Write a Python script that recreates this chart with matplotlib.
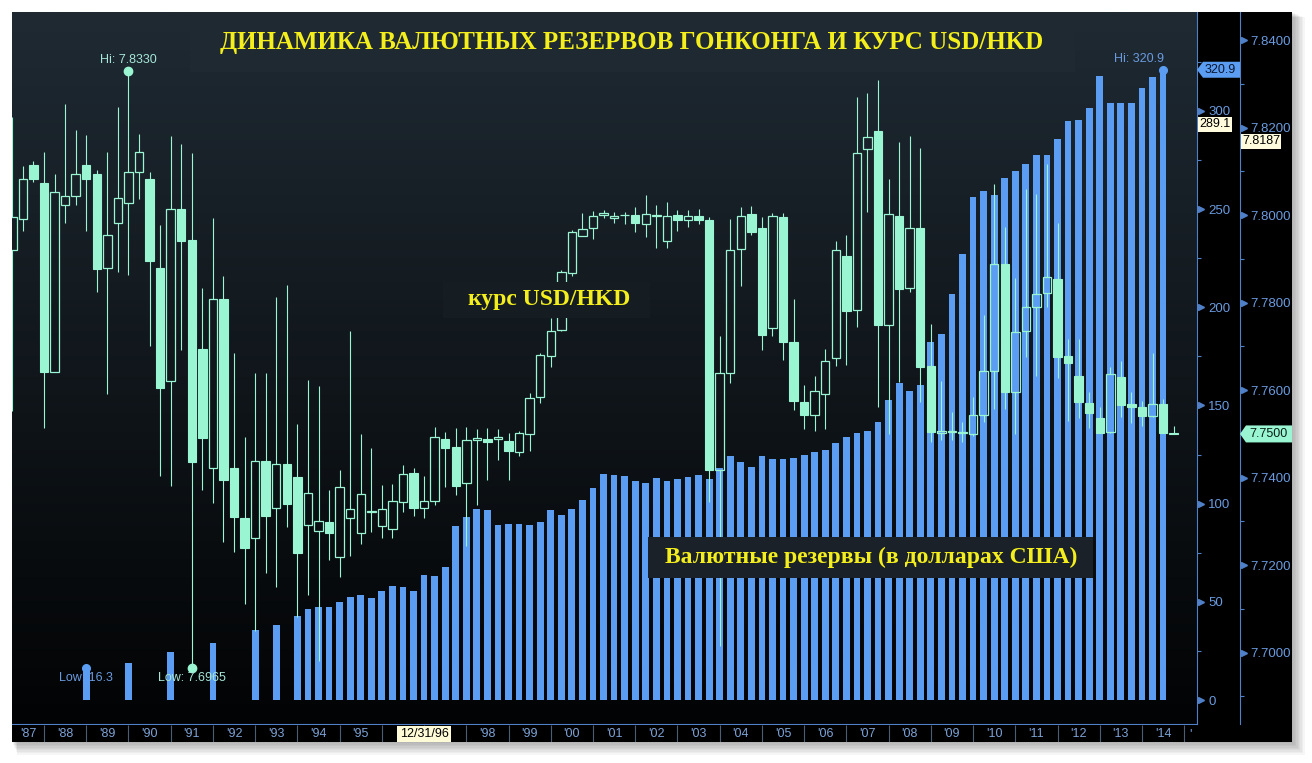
import matplotlib
matplotlib.use('Agg')
import matplotlib.pyplot as plt
import matplotlib.transforms as mtransforms
from matplotlib.patches import Rectangle, Polygon
import numpy as np

W, H, DPI = 1312, 763, 100

# ---------------- data ----------------
first_quarter = 1987.25
quarter_step = 0.25

opens = [7.7921, 7.7992, 7.8115, 7.8073, 7.7642, 7.8024, 7.8044, 7.8115, 7.8094, 7.7880,
         7.7983, 7.8027, 7.8098, 7.8083, 7.7880, 7.7620, 7.8014, 7.7943, 7.7694, 7.7421,
         7.7808, 7.7421, 7.7307, 7.7261, 7.7437, 7.7331, 7.7432, 7.7402, 7.7291, 7.7279,
         7.7299, 7.7219, 7.7308, 7.7274, 7.7322, 7.7290, 7.7282, 7.7344, 7.7410, 7.7331,
         7.7346, 7.7488, 7.7470, 7.7388, 7.7486, 7.7488, 7.7488, 7.7484, 7.7459, 7.7500,
         7.7584, 7.7678, 7.7738, 7.7868, 7.7952, 7.7970, 7.8000, 7.7993, 7.8000, 7.8000,
         7.7980, 7.7999, 7.7941, 7.8001, 7.7990, 7.7997, 7.7988, 7.7418, 7.7639, 7.7923,
         7.8003, 7.7970, 7.7742, 7.7995, 7.7711, 7.7573, 7.7544, 7.7592, 7.7674, 7.7907,
         7.7783, 7.8151, 7.8192, 7.7750, 7.7999, 7.7834, 7.7971, 7.7655, 7.7503, 7.7504,
         7.7502, 7.7500, 7.7543, 7.7644, 7.7888, 7.7595, 7.7735, 7.7790, 7.7821, 7.7853,
         7.7678, 7.7633, 7.7571, 7.7536, 7.7504, 7.7631, 7.7569, 7.7562, 7.7541, 7.7569,
         7.7501]
closes = [7.7996, 7.8082, 7.8082, 7.7642, 7.8052, 7.8044, 7.8093, 7.8082, 7.7878, 7.7954,
          7.8039, 7.8099, 7.8144, 7.7896, 7.7606, 7.8014, 7.7941, 7.7436, 7.7491, 7.7808,
          7.7395, 7.7311, 7.7240, 7.7437, 7.7312, 7.7432, 7.7340, 7.7228, 7.7365, 7.7302,
          7.7274, 7.7379, 7.7328, 7.7363, 7.7323, 7.7328, 7.7346, 7.7408, 7.7331, 7.7346,
          7.7493, 7.7467, 7.7381, 7.7486, 7.7490, 7.7482, 7.7493, 7.7461, 7.7501, 7.7582,
          7.7680, 7.7735, 7.7869, 7.7961, 7.7968, 7.7999, 7.8004, 7.7999, 7.8001, 7.7983,
          7.8003, 7.8000, 7.7999, 7.7990, 7.7997, 7.7988, 7.7418, 7.7639, 7.7921, 7.7999,
          7.7962, 7.7726, 7.7997, 7.7711, 7.7575, 7.7544, 7.7598, 7.7666, 7.7921, 7.7780,
          7.8142, 7.8178, 7.7749, 7.8003, 7.7831, 7.7971, 7.7654, 7.7505, 7.7506, 7.7506,
          7.7504, 7.7543, 7.7644, 7.7888, 7.7595, 7.7733, 7.7790, 7.7820, 7.7858, 7.7676,
          7.7662, 7.7574, 7.7548, 7.7502, 7.7637, 7.7566, 7.7562, 7.7541, 7.7569, 7.7502,
          7.7500]
highs = [7.8224, 7.8113, 7.8124, 7.8144, 7.8094, 7.8253, 7.8194, 7.8183, 7.8103, 7.8144,
         7.8247, 7.8330, 7.8185, 7.8099, 7.7978, 7.8181, 7.8162, 7.8142, 7.7834, 7.7994,
         7.7860, 7.7686, 7.7492, 7.7639, 7.7639, 7.7813, 7.7841, 7.7523, 7.7623, 7.7610,
         7.7372, 7.7417, 7.7735, 7.7500, 7.7468, 7.7383, 7.7385, 7.7429, 7.7422, 7.7404,
         7.7516, 7.7504, 7.7514, 7.7516, 7.7511, 7.7514, 7.7511, 7.7501, 7.7507, 7.7594,
         7.7684, 7.7765, 7.7875, 7.7965, 7.8005, 7.8010, 7.8011, 7.8007, 7.8008, 7.8019,
         7.8046, 7.8023, 7.8030, 7.8011, 7.8012, 7.8014, 7.7995, 7.7723, 7.7991, 7.8019,
         7.8020, 7.7995, 7.8005, 7.8005, 7.7808, 7.7612, 7.7632, 7.7693, 7.7941, 7.7955,
         7.8270, 7.8280, 7.8309, 7.8083, 7.8168, 7.8181, 7.8153, 7.7751, 7.7621, 7.7551,
         7.7528, 7.7585, 7.7771, 7.8071, 7.7973, 7.7856, 7.8059, 7.8048, 7.8117, 7.7981,
         7.7717, 7.7717, 7.7595, 7.7562, 7.7653, 7.7667, 7.7595, 7.7576, 7.7685, 7.7580,
         7.7518]
lows = [7.7553, 7.7964, 7.8075, 7.7514, 7.7642, 7.7983, 7.8023, 7.7964, 7.7824, 7.7591,
        7.7871, 7.7863, 7.8036, 7.7702, 7.7404, 7.7380, 7.7691, 7.6965, 7.7372, 7.7342,
        7.7253, 7.7231, 7.7112, 7.7050, 7.7181, 7.7150, 7.7287, 7.7082, 7.7132, 7.6980,
        7.7212, 7.7173, 7.7221, 7.7248, 7.7276, 7.7262, 7.7262, 7.7322, 7.7313, 7.7308,
        7.7337, 7.7379, 7.7361, 7.7244, 7.7338, 7.7395, 7.7441, 7.7395, 7.7450, 7.7461,
        7.7571, 7.7653, 7.7735, 7.7860, 7.7952, 7.7946, 7.7994, 7.7981, 7.7980, 7.7961,
        7.7951, 7.7925, 7.7925, 7.7964, 7.7972, 7.7980, 7.7344, 7.7015, 7.7617, 7.7839,
        7.7955, 7.7692, 7.7724, 7.7670, 7.7554, 7.7512, 7.7506, 7.7511, 7.7656, 7.7657,
        7.7745, 7.8008, 7.7562, 7.7500, 7.7619, 7.7825, 7.7574, 7.7482, 7.7486, 7.7486,
        7.7482, 7.7495, 7.7528, 7.7557, 7.7557, 7.7500, 7.7676, 7.7632, 7.7790, 7.7628,
        7.7530, 7.7537, 7.7513, 7.7502, 7.7502, 7.7539, 7.7524, 7.7517, 7.7539, 7.7502,
        7.7500]
# FX reserves, bn USD (None = no bar for that quarter)
reserves = [None, None, None, None, None, None, None, 16.3, None, None,
            None, 19.1, None, None, None, 24.4, None, None, None, 29.2,
            None, None, None, 35.5, None, 38.4, None, 43.0, 46.6, 47.6,
            47.6, 49.8, 52.6, 53.7, 52.1, 55.7, 58.3, 57.8, 55.7, 63.9,
            63.4, 67.7, 88.6, 93.0, 97.1, 96.6, 88.9, 89.8, 89.8, 88.9,
            90.8, 96.6, 94.1, 97.5, 101.8, 107.8, 115.0, 114.6, 114.0, 111.5,
            110.3, 112.9, 111.5, 112.5, 113.7, 114.6, 112.5, 117.9, 124.2, 121.3,
            118.5, 124.2, 122.5, 122.5, 123.0, 124.7, 126.4, 127.3, 130.7, 133.7,
            135.8, 137.0, 141.7, 152.8, 161.2, 157.3, 160.5, 182.4, 186.6, 206.9,
            227.0, 256.1, 259.0, 257.0, 266.0, 269.1, 272.9, 277.5, 277.6, 285.5,
            294.6, 295.1, 301.3, 317.5, 304.1, 304.1, 304.1, 311.4, 317.2, 320.9,
            None]

# year labels; '96 and '97 are hidden under the date tag in the reference
year_labels = ["'87", "'88", "'89", "'90", "'91", "'92", "'93", "'94", "'95", "",
               "", "'98", "'99", "'00", "'01", "'02", "'03", "'04", "'05", "'06",
               "'07", "'08", "'09", "'10", "'11", "'12", "'13", "'14"]
first_year = 1987
date_tag = "12/31/96"
date_tag_x = 1997.0
reserve_ticks = [0, 50, 100, 150, 200, 250, 300]
reserve_minor = [25, 75, 125, 175, 225, 275, 325]
rate_ticks = [7.70, 7.72, 7.74, 7.76, 7.78, 7.80, 7.82, 7.84]
rate_minor = [7.69, 7.71, 7.73, 7.75, 7.77, 7.79, 7.81, 7.83]
cursor_reserve = 289.1
cursor_rate = 7.8187

title = "ДИНАМИКА ВАЛЮТНЫХ РЕЗЕРВОВ ГОНКОНГА И КУРС USD/HKD"
label_rate = "курс USD/HKD"
label_res = "Валютные резервы (в долларах США)"

# ---------------- style ----------------
MINT = '#9af5d2'
BLUE = '#5a9df2'
AXBLUE = '#4f80c8'
LBL = '#6a9be0'
YEL = '#f4ef1c'
SANS = ['Liberation Sans', 'DejaVu Sans']
SERIF = ['Liberation Serif', 'DejaVu Serif']

fig = plt.figure(figsize=(W / DPI, H / DPI), dpi=DPI)
fig.patch.set_facecolor('white')


def px_rect(x0, y0, x1, y1):
    return [x0 / W, 1 - y1 / H, (x1 - x0) / W, (y1 - y0) / H]


# background / panel with shadow
bg = fig.add_axes([0, 0, 1, 1])
bg.set_xlim(0, W); bg.set_ylim(H, 0); bg.axis('off')
for k in range(1, 10):
    bg.add_patch(Rectangle((12 + k * 0.6, 12 + k * 0.6), 1280 + k * 0.8, 730 + k * 0.8,
                           facecolor='black', edgecolor='none', alpha=0.035))
bg.add_patch(Rectangle((12, 12), 1280, 730, facecolor='black', edgecolor='none'))

# main axes
xmin, xmax = 1987.242, 2015.303
ax = fig.add_axes(px_rect(12, 12, 1197, 724))
ax.set_facecolor('none')
grad = np.linspace(0, 1, 256)[:, None]
top_c = np.array([31, 42, 51]) / 255
bot_c = np.array([2, 3, 4]) / 255
img = top_c[None, None, :] * (1 - grad[:, :, None]) + bot_c[None, None, :] * grad[:, :, None]
ax.imshow(img, extent=(0, 1, 0, 1), transform=ax.transAxes, aspect='auto', zorder=0)
ax.set_xlim(xmin, xmax)
ax.set_ylim(-12.2, 350.3)

ax2 = ax.twinx()
ax2.set_ylim(7.68370, 7.84644)
ax2.set_xlim(xmin, xmax)

n = len(opens)
xs = first_quarter + quarter_step * np.arange(n)
o = np.array(opens); c = np.array(closes); hi = np.array(highs); lo = np.array(lows)
res = np.array([np.nan if v is None else v for v in reserves])
mask = ~np.isnan(res)

# reserve bars
ax.bar(xs[mask], res[mask], width=0.16, color=BLUE, zorder=3)

# candles
top = np.maximum(o, c); bot = np.minimum(o, c)
up = c >= o
ax2.vlines(xs, top, hi, color=MINT, lw=0.8, zorder=3)
ax2.vlines(xs, lo, bot, color=MINT, lw=0.8, zorder=3)
bh = np.maximum(top - bot, 0.00004)
ax2.bar(xs[~up], bh[~up], bottom=bot[~up], width=0.2, color=MINT, edgecolor=MINT,
        lw=0.8, zorder=4)
ax2.bar(xs[up], bh[up], bottom=bot[up], width=0.2, facecolor='none', edgecolor=MINT,
        lw=0.9, zorder=4)

# hi / low markers
ih = int(np.argmax(hi)); il = int(np.argmin(lo))
ax2.plot([xs[ih]], [hi[ih]], 'o', color=MINT, ms=6, zorder=6)
ax2.plot([xs[il]], [lo[il]], 'o', color=MINT, ms=6, zorder=6)
ax2.annotate(f"Hi: {hi[ih]:.4f}", (xs[ih], hi[ih]), xytext=(0, 7.5), textcoords='offset points',
             ha='center', va='center', color='#a6e6d8', fontsize=9, family=SANS, zorder=6)
ax2.annotate(f"Low: {lo[il]:.4f}", (xs[il], lo[il]), xytext=(0, -7.5),
             textcoords='offset points', ha='center', va='center', color='#a6e6d8',
             fontsize=9, family=SANS, zorder=6)
rmax = int(np.nanargmax(res)); rmin = int(np.nanargmin(res))
ax.plot([xs[rmax]], [res[rmax]], 'o', color=BLUE, ms=5.5, zorder=4)
ax.plot([xs[rmin]], [res[rmin]], 'o', color=BLUE, ms=5.5, zorder=4)
ax.annotate(f"Hi: {res[rmax]:.1f}", (xs[rmax], res[rmax]), xytext=(1, 7.5),
            textcoords='offset points', ha='right', va='center', color=LBL, fontsize=9,
            family=SANS, zorder=6)
ax.annotate(f"Low: {res[rmin]:.1f}", (xs[rmin], res[rmin]), xytext=(0, -7.5),
            textcoords='offset points', ha='center', va='center', color=LBL, fontsize=9,
            family=SANS, zorder=1)

# axes styling
for a in (ax, ax2):
    for s in ('left', 'top'):
        a.spines[s].set_visible(False)
    a.set_xticks([])
ax.spines['bottom'].set_color(AXBLUE)
ax.spines['right'].set_color(AXBLUE)
ax2.spines['bottom'].set_visible(False)
ax2.spines['right'].set_color(AXBLUE)
ax2.spines['right'].set_position(('outward', 31))

ax.yaxis.tick_right()
ax.set_yticks(reserve_ticks)
ax.set_yticklabels([str(t) for t in reserve_ticks])
ax.set_yticks(reserve_minor, minor=True)
ax.tick_params(axis='y', which='major', length=0, pad=8, labelcolor=LBL, labelsize=9.5)
ax.tick_params(axis='y', which='minor', length=3, width=0.8, color=AXBLUE, direction='out')
for lab in ax.get_yticklabels():
    lab.set_family(SANS)

ax2.set_yticks(rate_ticks)
ax2.set_yticklabels([f"{t:.4f}" for t in rate_ticks])
ax2.set_yticks(rate_minor, minor=True)
ax2.tick_params(axis='y', which='major', length=0, pad=7.5, labelcolor=LBL, labelsize=9.5)
ax2.tick_params(axis='y', which='minor', length=3, width=0.8, color=AXBLUE, direction='out')
for lab in ax2.get_yticklabels():
    lab.set_family(SANS)

tr1 = mtransforms.blended_transform_factory(ax.transAxes, ax.transData) + \
    mtransforms.ScaledTranslation(4 / DPI, 0, fig.dpi_scale_trans)
ax.plot([1.0] * len(reserve_ticks), reserve_ticks, ls='none', marker='>', ms=4.5,
        color=AXBLUE, transform=tr1, clip_on=False, zorder=5)
tr2 = mtransforms.blended_transform_factory(ax2.transAxes, ax2.transData) + \
    mtransforms.ScaledTranslation(47 / DPI, 0, fig.dpi_scale_trans)
ax2.plot([1.0] * len(rate_ticks), rate_ticks, ls='none', marker='>', ms=4.5,
         color=AXBLUE, transform=tr2, clip_on=False, zorder=5)

# date strip
sx = fig.add_axes(px_rect(12, 725, 1197, 742))
sx.set_facecolor('black')
sx.set_xlim(xmin, xmax); sx.set_ylim(0, 1)
sx.set_xticks([]); sx.set_yticks([])
for s in sx.spines.values():
    s.set_visible(False)
years = first_year + np.arange(len(year_labels))
sx.vlines(np.arange(first_year + 1, first_year + len(year_labels) + 1), 0, 1,
          color='#4d5d73', lw=0.8)
for yv, lab in zip(years, year_labels):
    if not lab:
        continue
    xc = yv + 0.5 if yv > xmin else (xmin + yv + 1) / 2
    sx.text(xc, 0.45, lab, ha='center', va='center', color='#7da3d8', fontsize=9,
            family=SANS)
sx.text(first_year + len(year_labels) + 0.15, 0.45, "'", ha='center', va='center',
        color='#7da3d8', fontsize=9, family=SANS)
sx.text(date_tag_x, 0.47, date_tag, ha='center', va='center', color='black', fontsize=9,
        family=SANS, zorder=5,
        bbox=dict(boxstyle='square,pad=0.18', facecolor='#fffbd6', edgecolor='none'))

# overlay: text boxes and value tags
ov = fig.add_axes([0, 0, 1, 1])
ov.set_xlim(0, W); ov.set_ylim(0, H); ov.axis('off')


def ytop(v, axis):
    return axis.transData.transform((xmin, v))[1]


def tag(x0, x1, yc, h, fc, text, tc, arrow=True):
    if arrow:
        pts = [(x0, yc), (x0 + 6, yc + h / 2), (x1, yc + h / 2), (x1, yc - h / 2), (x0 + 6, yc - h / 2)]
    else:
        pts = [(x0, yc + h / 2), (x1, yc + h / 2), (x1, yc - h / 2), (x0, yc - h / 2)]
    ov.add_patch(Polygon(pts, closed=True, facecolor=fc, edgecolor='none'))
    ov.text((x0 + x1) / 2 + (2 if arrow else 0), yc, text, ha='center', va='center', color=tc,
            fontsize=9, family=SANS)


tag(1197, 1240, ytop(res[rmax], ax), 16, BLUE, f"{res[rmax]:.1f}", '#0a1630')
tag(1240, 1292, ytop(c[-1], ax2), 17, MINT, f"{c[-1]:.4f}", '#0a2018')
tag(1198, 1232, ytop(cursor_reserve, ax) + 8, 15, '#fffbdc', f"{cursor_reserve:.1f}", 'black',
    arrow=False)
tag(1241, 1281, ytop(cursor_rate, ax2) - 8, 15, '#fffbdc', f"{cursor_rate:.4f}", 'black',
    arrow=False)

# title & labels (pixel positions measured top-down)
ov.add_patch(Rectangle((190, H - 72), 885, 60, facecolor='#1f2931', edgecolor='none'))
ov.text(632, H - 43, title, ha='center', va='center', color=YEL, fontsize=18,
        fontweight='bold', family=SERIF)
ov.add_patch(Rectangle((443, H - 318), 207, 36, facecolor='#151d23', edgecolor='none'))
ov.text(549, H - 299, label_rate, ha='center', va='center', color=YEL, fontsize=17,
        fontweight='bold', family=SERIF)
ov.add_patch(Rectangle((648, H - 578), 445, 41, facecolor='#1a2128', edgecolor='none'))
ov.text(871, H - 557, label_res, ha='center', va='center', color=YEL, fontsize=17,
        fontweight='bold', family=SERIF)

fig.savefig('out.png', dpi=DPI, facecolor='white')
